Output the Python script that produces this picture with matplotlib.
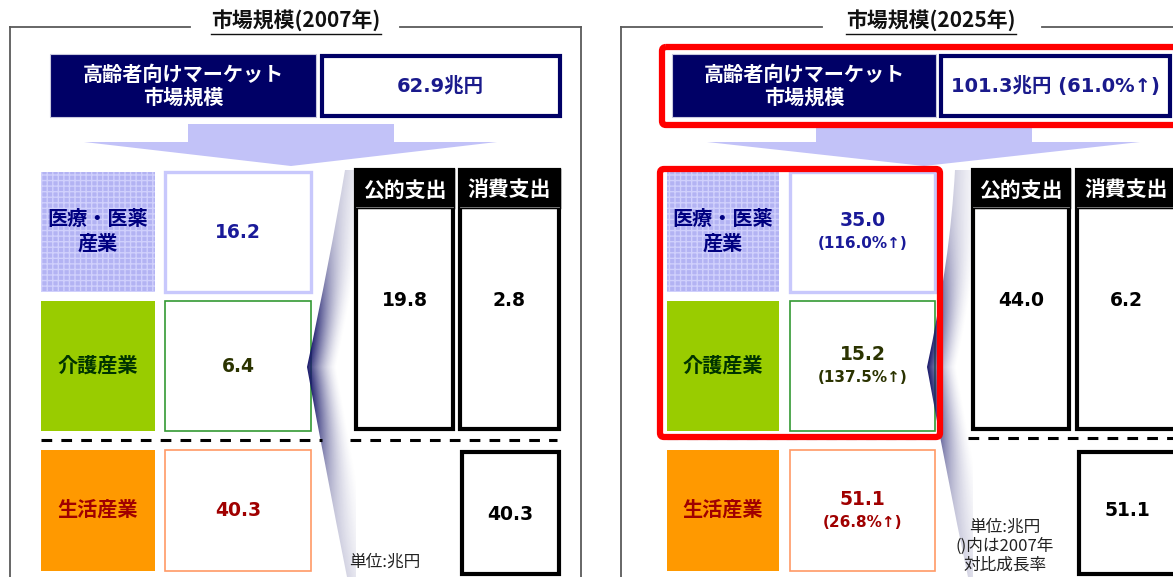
import numpy as np
import matplotlib
matplotlib.use('Agg')
import matplotlib.pyplot as plt
from matplotlib.patches import Rectangle, Polygon, PathPatch, FancyBboxPatch
from matplotlib.path import Path

# ---------------- data ----------------
years = ['2007', '2025']
total_market = [62.9, 101.3]          # 兆円
total_growth = [None, 61.0]           # % vs 2007
segments = ['医療・医薬\n産業', '介護産業', '生活産業']
segment_2007 = [16.2, 6.4, 40.3]
segment_2025 = [35.0, 15.2, 51.1]
segment_growth = [None, [116.0, 137.5, 26.8]]
spend_heads = ['公的支出', '消費支出']
spend_2007 = [19.8, 2.8]
spend_2025 = [44.0, 6.2]
life_consumer = [40.3, 51.1]
header_label = '高齢者向けマーケット\n市場規模'
unit_notes = ['単位:兆円', '単位:兆円\n()内は2007年\n対比成長率']

JP = ['Noto Sans CJK JP', 'DejaVu Sans']
NUM = ['DejaVu Sans', 'Noto Sans CJK JP']

NAVY = '#000066'
sq_fill = ['#b3b3f3', '#99cc00', '#ff9900']
lab_col = ['#000080', '#003300', '#a00000']
box_edge = ['#c8c8fc', '#339933', '#ff9966']
val_col = ['#1a1a99', '#2b3300', '#a00000']

fig = plt.figure(figsize=(11.73, 5.77), dpi=100)
ax = fig.add_axes([0, 0, 1, 1])
ax.set_xlim(0, 1173)
ax.set_ylim(577, 0)
ax.axis('off')

layouts = [
    dict(frame=(10, 581), title_cx=296, gap=(190, 400), navy=(50, 316), white=(320, 561),
         arect=(188, 394), atri=(84, 497), apex=291, sq=(41, 155), val=(165, 311),
         col1=(356, 453), col2=(460, 559), dashL=(41, 322), dashR=(350, 557),
         unit=(385, 562), tip=(307, 367), cu=(330, 260), top=(345, 170),
         cl=(326, 472), bot=(347, 577), dash_y=440, life_y=514),
    dict(frame=(621, 1200), title_cx=931, gap=(822, 1042), navy=(672, 936), white=(939, 1171),
         arect=(816, 1032), atri=(707, 1140), apex=924, sq=(667, 779), val=(790, 935),
         col1=(973, 1069), col2=(1077, 1176), dashL=(667, 940), dashR=(968, 1173),
         unit=(1005, 546), tip=(927, 367), cu=(950, 262), top=(955, 170),
         cl=(946, 472), bot=(968, 577), dash_y=438, life_y=510),
]
rows = [(172, 292), (301, 431), (450, 571)]


def rect(x0, y0, x1, y1, **kw):
    ax.add_patch(Rectangle((x0, y0), x1 - x0, y1 - y0, **kw))


def bez(p0, c, p2, t):
    x = (1 - t) ** 2 * p0[0] + 2 * (1 - t) * t * c[0] + t ** 2 * p2[0]
    y = (1 - t) ** 2 * p0[1] + 2 * (1 - t) * t * c[1] + t ** 2 * p2[1]
    return x, y


def wedge(L):
    tip, cu, top, cl, bot = L['tip'], L['cu'], L['top'], L['cl'], L['bot']
    rx = L['col1'][0]
    verts = [tip, cu, top, (rx, top[1]), (rx, bot[1]), bot, cl, tip, tip]
    codes = [Path.MOVETO, Path.CURVE3, Path.CURVE3, Path.LINETO, Path.LINETO, Path.LINETO,
             Path.CURVE3, Path.CURVE3, Path.CLOSEPOLY]
    patch = PathPatch(Path(verts, codes), fc='none', ec='none', zorder=2.5)
    ax.add_patch(patch)
    t = np.linspace(0, 1, 300)
    ux, uy = bez(tip, cu, top, t)
    lx, ly = bez(tip, cl, bot, t)
    ey = np.concatenate([uy[::-1], ly[1:]])
    ex = np.concatenate([ux[::-1], lx[1:]])
    xs = np.linspace(tip[0] - 1, rx, 220)
    ys = np.linspace(top[1], bot[1], 500)
    X, Y = np.meshgrid(xs, ys)
    xe = np.interp(Y, ey, ex)
    d = np.clip(X - xe, 0, None)
    strength = 0.18 + 0.82 * np.exp(-((Y - tip[1]) / 95.0) ** 2)
    width = 30.0
    alpha = strength * np.clip(1 - d / width, 0, 1) ** 1.6
    img = np.zeros(X.shape + (4,))
    img[..., 0] = 0.10
    img[..., 1] = 0.10
    img[..., 2] = 0.42
    img[..., 3] = alpha
    im = ax.imshow(img, extent=(xs[0], xs[-1], bot[1], top[1]), origin='upper',
                   aspect='auto', interpolation='bilinear', zorder=2.5)
    im.set_clip_path(patch)


for p, L in enumerate(layouts):
    f0, f1 = L['frame']
    # frame
    fk = dict(color='#5a5a5a', lw=1.3, zorder=1)
    ax.plot([f0, f0], [27, 580], **fk)
    ax.plot([f1, f1], [27, 580], **fk)
    ax.plot([f0, L['gap'][0]], [27, 27], **fk)
    ax.plot([L['gap'][1], f1], [27, 27], **fk)
    tt = ax.text(L['title_cx'], 21, f'市場規模({years[p]}年)', family=JP, weight='bold',
                 fontsize=15, ha='center', va='center', color='#111111', zorder=3)
    fig.canvas.draw()
    bb = tt.get_window_extent().transformed(ax.transData.inverted())
    ax.plot([bb.x0, bb.x1], [34, 34], color='#111111', lw=1.0, zorder=3)

    # header boxes
    n0, n1 = L['navy']
    rect(n0, 54, n1, 117, fc=NAVY, ec='#c8c8dd', lw=0.8, zorder=2)
    ax.text((n0 + n1) / 2, 86, header_label, family=JP, weight='bold', fontsize=14.5,
            color='white', ha='center', va='center', linespacing=1.12, zorder=3)
    w0, w1 = L['white']
    rect(w0 + 1.5, 55.5, w1 - 1.5, 115.5, fc='white', ec=NAVY, lw=3, zorder=2)
    if total_growth[p] is None:
        tot = f'{total_market[p]:.1f}兆円'
    else:
        tot = f'{total_market[p]:.1f}兆円 ({total_growth[p]:.1f}%↑)'
    ax.text((w0 + w1) / 2, 86, tot, family=NUM, weight='bold', fontsize=14,
            color='#1a1a8c', ha='center', va='center', zorder=3)

    # arrow
    a0, a1 = L['arect']
    t0, t1 = L['atri']
    ax.add_patch(Polygon([(a0, 124), (a1, 124), (a1, 142), (t1, 142), (L['apex'], 166),
                          (t0, 142), (a0, 142)], closed=True, fc='#c2c2f8', ec='none', zorder=1))

    wedge(L)

    vals = segment_2007 if p == 0 else segment_2025
    s0, s1 = L['sq']
    v0, v1 = L['val']
    for i, (y0, y1) in enumerate(rows):
        if i == 0:
            rect(s0, y0, s1, y1, fc=sq_fill[i], ec='#d0d0fc', lw=0, hatch='+++', zorder=2)
        else:
            rect(s0, y0, s1, y1, fc=sq_fill[i], ec='none', zorder=2)
        ax.text((s0 + s1) / 2, (y0 + y1) / 2 - 1, segments[i], family=JP, weight='bold',
                fontsize=14.5, color=lab_col[i], ha='center', va='center', linespacing=1.25,
                zorder=3)
        lw = 2.4 if i == 0 else 1.2
        rect(v0, y0, v1, y1, fc='white', ec=box_edge[i], lw=lw, zorder=2)
        cx, cy = (v0 + v1) / 2, (y0 + y1) / 2
        if segment_growth[p] is None:
            ax.text(cx, cy, f'{vals[i]:.1f}', family=NUM, weight='bold', fontsize=13.5,
                    color=val_col[i], ha='center', va='center', zorder=3)
        else:
            ax.text(cx, cy - 11, f'{vals[i]:.1f}', family=NUM, weight='bold', fontsize=13.5,
                    color=val_col[i], ha='center', va='center', zorder=3)
            ax.text(cx, cy + 12, f'({segment_growth[p][i]:.1f}%↑)', family=NUM,
                    weight='bold', fontsize=11, color=val_col[i], ha='center',
                    va='center', zorder=3)

    # dashed separator
    dk = dict(color='black', lw=2.2, ls=(0, (3.5, 3)), zorder=3)
    ax.plot(list(L['dashL']), [L['dash_y'], L['dash_y']], **dk)
    ax.plot(list(L['dashR']), [L['dash_y'], L['dash_y']], **dk)

    # spending columns
    spend = spend_2007 if p == 0 else spend_2025
    for j, (c0, c1) in enumerate([L['col1'], L['col2']]):
        rect(c0, 170, c1, 207, fc='black', ec='black', lw=2.5, zorder=3.5)
        rect(c0, 170, c1, 429, fc='white', ec='black', lw=3, zorder=3)
        ax.plot([c0, c1], [207, 207], color='#888888', lw=0.6, zorder=3.6)
        ax.text((c0 + c1) / 2, 190, spend_heads[j], family=JP, weight='bold', fontsize=15,
                color='white', ha='center', va='center', zorder=4)
        ax.text((c0 + c1) / 2, 300, f'{spend[j]:.1f}', family=NUM, weight='bold',
                fontsize=13.5, color='black', ha='center', va='center', zorder=4)
    c0, c1 = L['col2']
    rect(c0 + 2, 452, c1, 574, fc='white', ec='black', lw=3, zorder=3)
    ax.text((c0 + 2 + c1) / 2, L['life_y'], f'{life_consumer[p]:.1f}', family=NUM,
            weight='bold', fontsize=13.5, color='black', ha='center', va='center', zorder=4)

    ax.text(L['unit'][0], L['unit'][1], unit_notes[p], family=JP, fontsize=12,
            color='#222222', ha='center', va='center', linespacing=1.15, zorder=4)

# red highlight boxes (2025)
for (x0, y0, x1, y1) in [(662, 47, 1190, 125), (660, 169, 940, 437)]:
    ax.add_patch(FancyBboxPatch((x0, y0), x1 - x0, y1 - y0,
                                boxstyle='round,pad=0,rounding_size=4',
                                fc='none', ec='#ff0000', lw=4.5, zorder=5))

fig.savefig('out.png', dpi=100)
